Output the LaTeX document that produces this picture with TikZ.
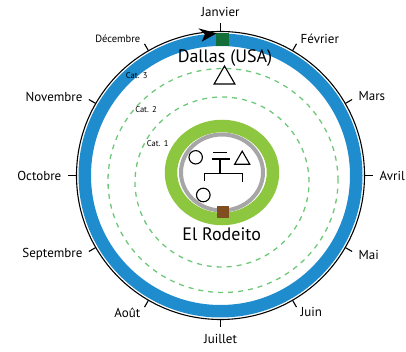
\documentclass[tikz,border=0pt]{standalone}
\usepackage{fontspec}
\setmainfont{PT Sans}
\usepackage{xcolor}
\usetikzlibrary{arrows.meta,positioning,calc,shapes.geometric}

\definecolor{ringblue}{RGB}{30,140,205}
\definecolor{ringgreen}{RGB}{141,198,63}
\definecolor{dashgreen}{RGB}{110,200,120}
\definecolor{housebrown}{RGB}{128,78,33}
\definecolor{dallasgreen}{RGB}{20,110,55}

\begin{document}
\begin{tikzpicture}[x=1pt,y=1pt,
    every node/.style={inner sep=1pt},
    catlabel/.style={font=\fontsize{8.5}{9}\selectfont},
    place/.style={font=\fontsize{18}{20}\selectfont},
    zone/.style={dashgreen, line width=1.3, dash pattern=on 5pt off 5pt},
    person/.style={draw, line width=1.1, inner sep=0pt},
    kin/.style={line width=1.1}]
  \useasboundingbox (-220.5,-176.5) rectangle (185.5,175.5);

  % year ring with months
  \draw[ringblue, line width=12.5] (0,0) circle (135.75);
  \draw[line width=1.1] (0,0) circle (144);
  \foreach \m/\s/\w [count=\i from 0, evaluate=\i as \a using 90-30*\i] in
      {Janvier/13/south, Février/13/west, Mars/13/west, Avril/13/west,
       Mai/13/west, Juin/13/west, Juillet/13/north, Août/13/east,
       Septembre/13/east, Octobre/13/east, Novembre/13/east,
       Décembre/10.5/east}
  {
    \draw[line width=1.1] (\a:144) -- (\a:152);
    \node[anchor=\w, font=\fontsize{\s}{\s}\selectfont] (m\i) at (\a:158) {\m};
  }

  % zones
  \draw[zone] (2.5,-5) ellipse [x radius=115, y radius=112];
  \draw[zone] (1.5,-6.5) ellipse [x radius=87, y radius=85];
  \node[catlabel] (c3) at (-83.8,99.5) {Cat. 3};
  \node[catlabel] (c2) at (-74.5,66.2) {Cat. 2};
  \node[catlabel] (c1) at (-62.8,32.2) {Cat. 1};

  % home
  \draw[ringgreen, line width=12.5] (1.5,3) ellipse [x radius=51, y radius=46.5];
  \draw[gray!70, line width=4] (1.5,3) ellipse [x radius=41, y radius=38];

  % Dallas
  \node[fill=dallasgreen, minimum size=13, inner sep=0pt] (jan) at (2.2,135.8) {};
  \fill (-22.2,147.2) -- (-3.8,142.2) -- (-18.8,133.8) -- (-15.5,141.2) -- cycle;
  \node[place] (dallas) at (4.5,117.2) {Dallas (USA)};
  \node[person, regular polygon, regular polygon sides=3, minimum size=24]
    (migrant) at (4,97.5) {};

  % family at El Rodeito
  \node[person, circle, minimum size=13.4] (mother) at (-24.8,18.2) {};
  \node[person, regular polygon, regular polygon sides=3, minimum size=17.5]
    (father) at (21.7,15.6) {};
  \draw[kin] (-7.2,23.2) -- (6.8,23.2);
  \draw[kin] (-8.8,16.5) -- (9.5,16.5);
  \draw[kin] (-0.5,16.5) -- (-0.5,2.2);
  \draw[kin] (-16.2,-5.5) -- (-16.2,2.2) -- (22.2,2.2) -- (22.2,-6.2);
  \node[person, circle, minimum size=13.6] (child) at (-17.2,-19.5) {};
  \node[fill=housebrown, minimum size=12, inner sep=0pt] (house) at (2,-36.5) {};
  \node[place] (rodeito) at (1.2,-58.5) {El Rodeito};
\end{tikzpicture}
\end{document}
